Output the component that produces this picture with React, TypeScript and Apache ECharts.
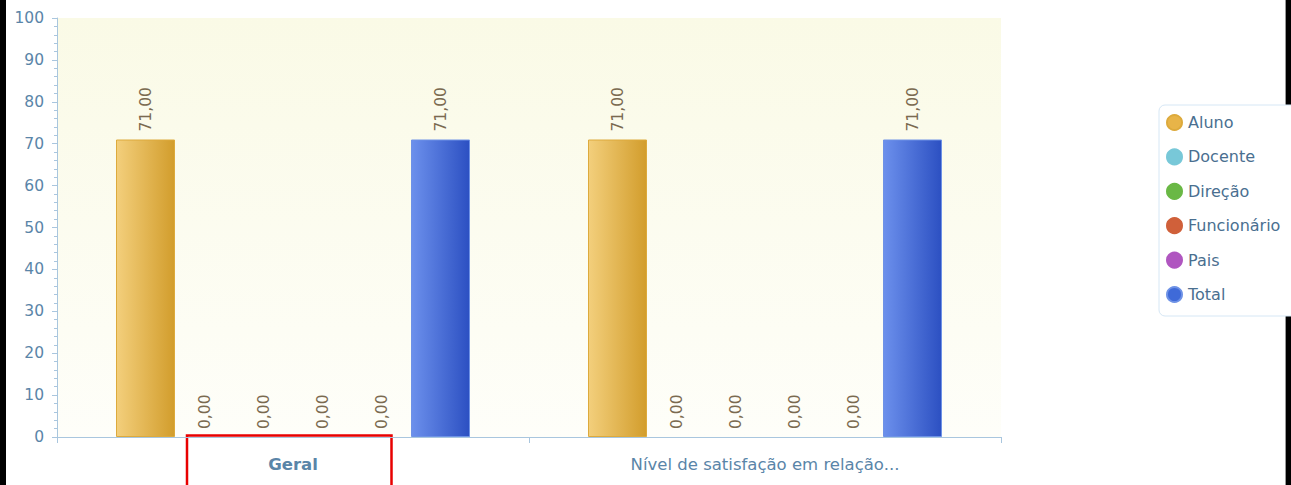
import React, { useEffect, useRef } from "react";
import * as echarts from "echarts";

const categories = ["Geral", "Nível de satisfação em relação..."];
const seriesNames = ["Aluno", "Docente", "Direção", "Funcionário", "Pais", "Total"];
const aluno = [71, 71];
const docente = [0, 0];
const direcao = [0, 0];
const funcionario = [0, 0];
const pais = [0, 0];
const total = [71, 71];
const yTicks = [0, 10, 20, 30, 40, 50, 60, 70, 80, 90, 100];

const seriesValues = [aluno, docente, direcao, funcionario, pais, total];
const seriesColors: [string, string, string][] = [
  ["#F3CF7C", "#D29D2C", "#DDAA3C"],
  ["#9ADAE6", "#5AB4C8", "#78C8D8"],
  ["#8CCC66", "#58A838", "#6AB845"],
  ["#E2805A", "#C04A24", "#D0603A"],
  ["#C878D6", "#9C3CB0", "#B056C0"],
  ["#6C90EC", "#2C50C2", "#6E92E6"],
];
const legendColors = ["#E8B448", "#78C8D8", "#6AB845", "#D0603A", "#B056C0", "#3F6AD8"];

const FONT = "DejaVu Sans";
const AXIS_COLOR = "#A9C6DE";
const TEXT_COLOR = "#5A85A8";

export default function App() {
  const ref = useRef<HTMLDivElement>(null);
  useEffect(() => {
    document.body.style.margin = "0";
    const chart = echarts.init(ref.current!, null, { renderer: "svg" });
    const fmt = (v: number) => v.toFixed(2).replace(".", ",");
    chart.setOption({
      animation: false,
      backgroundColor: "#ffffff",
      grid: {
        left: 57,
        right: 290,
        top: 18,
        bottom: 48,
        show: true,
        borderWidth: 0,
        backgroundColor: new echarts.graphic.LinearGradient(0, 0, 0, 1, [
          { offset: 0, color: "#FAFAE6" },
          { offset: 1, color: "#FEFEF9" },
        ]),
      },
      legend: {
        orient: "vertical",
        left: 1159,
        top: 105,
        data: seriesNames.map((n, i) => ({
          name: n,
          itemStyle: { color: legendColors[i] },
        })),
        icon: "circle",
        itemWidth: 15,
        itemHeight: 15,
        itemGap: 17.4,
        padding: [9, 30, 13, 7],
        backgroundColor: "#ffffff",
        borderColor: "#D6E7F5",
        borderWidth: 1,
        borderRadius: 6,
        textStyle: { fontFamily: FONT, fontSize: 16, color: "#4A6F90", padding: [0, 0, 0, 1] },
      },
      xAxis: {
        type: "category",
        data: categories,
        axisLine: { lineStyle: { color: AXIS_COLOR, width: 1 } },
        axisTick: { show: true, length: 6, lineStyle: { color: AXIS_COLOR } },
        axisLabel: {
          margin: 19,
          fontFamily: FONT,
          fontSize: 16.5,
          color: TEXT_COLOR,
          formatter: (v: string, i: number) => (i === 0 ? `{b|${v}}` : `{n|${v}}`),
          rich: {
            b: { fontFamily: FONT, fontSize: 16.5, fontWeight: "bold", color: TEXT_COLOR },
            n: { fontFamily: FONT, fontSize: 16.5, color: TEXT_COLOR },
          },
        },
      },
      yAxis: {
        type: "value",
        min: yTicks[0],
        max: yTicks[yTicks.length - 1],
        interval: 10,
        splitLine: { show: false },
        axisLine: { show: true, lineStyle: { color: AXIS_COLOR } },
        axisTick: { show: true, length: 5, lineStyle: { color: AXIS_COLOR } },
        minorTick: { show: true, splitNumber: 5, length: 3, lineStyle: { color: AXIS_COLOR } },
        axisLabel: { margin: 13, fontFamily: FONT, fontSize: 15.5, color: TEXT_COLOR },
      },
      series: seriesNames.map((name, i) => ({
        name,
        type: "bar",
        data: seriesValues[i].map((v) => (v === 0 ? { value: v, itemStyle: { borderWidth: 0 } } : v)),
        barGap: "0%",
        barCategoryGap: "25%",
        itemStyle: {
          color: new echarts.graphic.LinearGradient(0, 0, 1, 0, [
            { offset: 0, color: seriesColors[i][0] },
            { offset: 1, color: seriesColors[i][1] },
          ]),
          borderColor: seriesColors[i][2],
          borderWidth: 1,
        },
        label: {
          show: true,
          position: "top",
          rotate: 90,
          align: "left",
          verticalAlign: "middle",
          distance: 8,
          fontFamily: FONT,
          fontSize: 15.5,
          color: "#7A6A50",
          formatter: (p: any) => fmt(p.value),
        },
      })),
      graphic: [
        { type: "rect", left: 0, top: 0, shape: { width: 6, height: 485 }, style: { fill: "#000" } },
        { type: "rect", left: 1285, top: 0, shape: { width: 1, height: 485 }, style: { fill: "#999" } },
        { type: "rect", left: 1286, top: 0, shape: { width: 5, height: 485 }, style: { fill: "#000" } },
        {
          type: "rect",
          shape: { x: 187, y: 435.5, width: 204.5, height: 60 },
          style: { fill: "none", stroke: "#E80000", lineWidth: 2.5 },
        },
      ],
    });
    return () => chart.dispose();
  }, []);
  return (
    <div style={{ position: "absolute", left: 0, top: 0, width: 1291, height: 485 }}>
      <div ref={ref} style={{ width: 1291, height: 485 }} />
    </div>
  );
}
